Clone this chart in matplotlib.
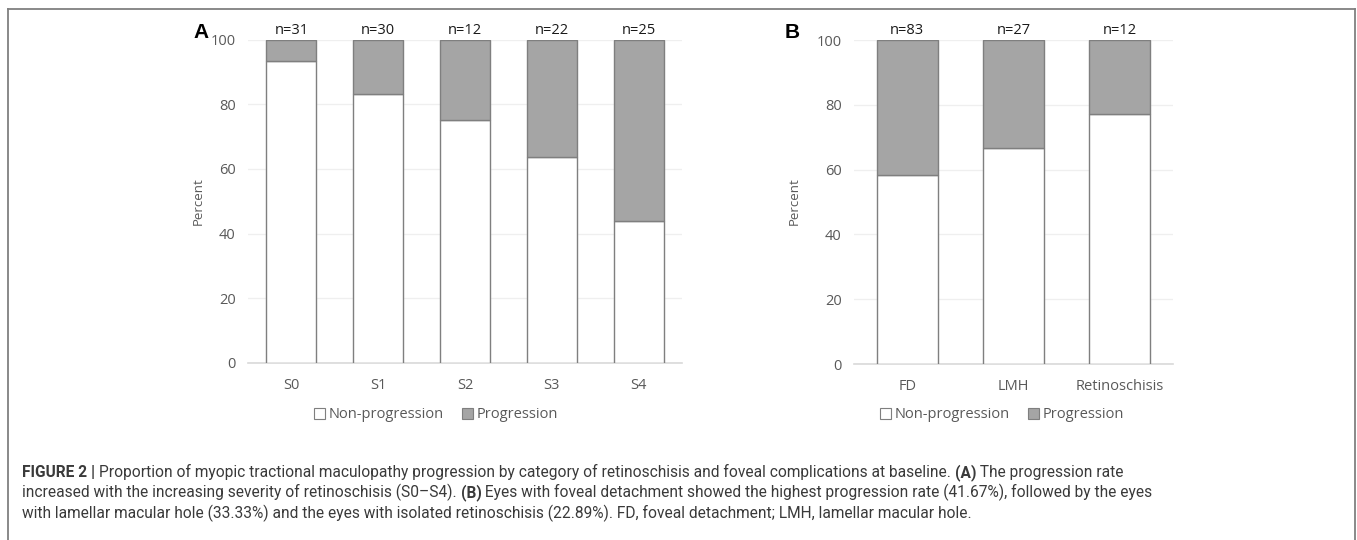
import numpy as np
import matplotlib
matplotlib.use("Agg")
import matplotlib.pyplot as plt
from matplotlib.patches import Patch
from matplotlib.lines import Line2D

W, H = 1357, 540

# panel A: retinoschisis stage
stage_labels = ["S0", "S1", "S2", "S3", "S4"]
stage_n = [31, 30, 12, 22, 25]
stage_nonprog = [93.5, 83.3, 75.0, 63.6, 44.0]
stage_prog = [6.5, 16.7, 25.0, 36.4, 56.0]

# panel B: foveal complication
comp_labels = ["FD", "LMH", "Retinoschisis"]
comp_n = [83, 27, 12]
comp_nonprog = [58.3, 66.7, 77.1]
comp_prog = [41.7, 33.3, 22.9]

legend_labels = ["Non-progression", "Progression"]

caption_lines = [
    [("FIGURE 2 | ", "bold"),
     ("Proportion of myopic tractional maculopathy progression by category of retinoschisis "
      "and foveal complications at baseline. ", "normal"),
     ("(A)", "bold"), (" The progression rate", "normal")],
    [("increased with the increasing severity of retinoschisis (S0\u2013S4). ", "normal"),
     ("(B)", "bold"),
     (" Eyes with foveal detachment showed the highest progression rate (41.67%), "
      "followed by the eyes", "normal")],
    [("with lamellar macular hole (33.33%) and the eyes with isolated retinoschisis (22.89%). "
      "FD, foveal detachment; LMH, lamellar macular hole.", "normal")],
]

EDGE = "#7f7f7f"
GREY = "#a5a5a5"
TXT = "#595959"
FONT = ["Open Sans", "DejaVu Sans"]


def px(x, y):
    return x / W, 1 - y / H


fig = plt.figure(figsize=(W / 100, H / 100), dpi=100)


def bar_panel(rect, labels, n, nonprog, prog):
    ax = fig.add_axes(rect)
    x = np.arange(len(labels))
    ax.bar(x, nonprog, width=0.575, color="white", edgecolor=EDGE, linewidth=1, zorder=3)
    ax.bar(x, prog, width=0.575, bottom=nonprog, color=GREY, edgecolor=EDGE, linewidth=1, zorder=3)
    for xi, ni in zip(x, n):
        ax.annotate("n={}".format(ni), (xi, 100), xytext=(0, 4), textcoords="offset points",
                    ha="center", va="baseline", fontsize=10.5, family=FONT, color="#1a1a1a")
    ax.set_xlim(-0.5, len(labels) - 0.5)
    ax.set_ylim(0, 100)
    ax.set_yticks([0, 20, 40, 60, 80, 100])
    ax.set_xticks(x)
    ax.set_xticklabels(labels)
    ax.grid(axis="y", color="#efefef", linewidth=0.9, zorder=0)
    for s in ["top", "left", "right"]:
        ax.spines[s].set_visible(False)
    ax.spines["bottom"].set_color("#d9d9d9")
    ax.spines["bottom"].set_linewidth(1.2)
    ax.tick_params(axis="both", length=0, labelsize=10.5, labelcolor=TXT)
    ax.tick_params(axis="y", pad=9)
    ax.tick_params(axis="x", pad=11)
    for t in ax.get_xticklabels() + ax.get_yticklabels():
        t.set_family(FONT)
    return ax


axA = bar_panel([248 / W, 1 - 363 / H, 434 / W, 323.5 / H],
                stage_labels, stage_n, stage_nonprog, stage_prog)
axB = bar_panel([854 / W, 1 - 364 / H, 319 / W, 324 / H],
                comp_labels, comp_n, comp_nonprog, comp_prog)

for letter, lx, plx in [("A", 193, 198), ("B", 785, 794)]:
    fig.text(*px(lx, 38), letter, fontsize=15, weight="bold", family="Liberation Sans",
             ha="left", va="baseline", color="black")
    fig.text(*px(plx, 201), "Percent", rotation=90, fontsize=9.5, family=FONT,
             ha="center", va="center", color=TXT)

handles = [Patch(facecolor="white", edgecolor=EDGE, linewidth=0.8),
           Patch(facecolor=GREY, edgecolor=EDGE, linewidth=0.8)]
for cx in [436, 1002]:
    leg = fig.legend(handles, legend_labels, loc="center", bbox_to_anchor=px(cx, 415), ncol=2,
                     frameon=False, handlelength=0.75, handleheight=0.75, handletextpad=0.2,
                     columnspacing=1.3, prop={"family": FONT, "size": 10.5})
    for t in leg.get_texts():
        t.set_color(TXT)

# caption frame
for xs, ys in [([7.5, 1355], [9, 9]), ([7.5, 7.5], [9, 545]), ([1355, 1355], [9, 545])]:
    fig.add_artist(Line2D([x / W for x in xs], [1 - y / H for y in ys], color="#808080",
                          linewidth=1.3, transform=fig.transFigure))

# caption text, sized so the second line spans the box like the original
renderer = fig.canvas.get_renderer()
cap_font = ["Liberation Sans Narrow", "Roboto", "DejaVu Sans"]


def line_width(pieces, size):
    total = 0
    for txt, wt in pieces:
        t = fig.text(0, 0, txt, fontsize=size, weight=wt, family=cap_font)
        total += t.get_window_extent(renderer).width
        t.remove()
    return total


cap_size = 10 * 1128 / line_width(caption_lines[1], 10)
for pieces, y in zip(caption_lines, [477, 497.5, 518]):
    x = 22
    for txt, wt in pieces:
        t = fig.text(*px(x, y), txt, fontsize=cap_size, weight=wt, family=cap_font,
                     ha="left", va="baseline", color="#3a3a3a")
        x += t.get_window_extent(renderer).width

fig.savefig("out.png", dpi=100)
